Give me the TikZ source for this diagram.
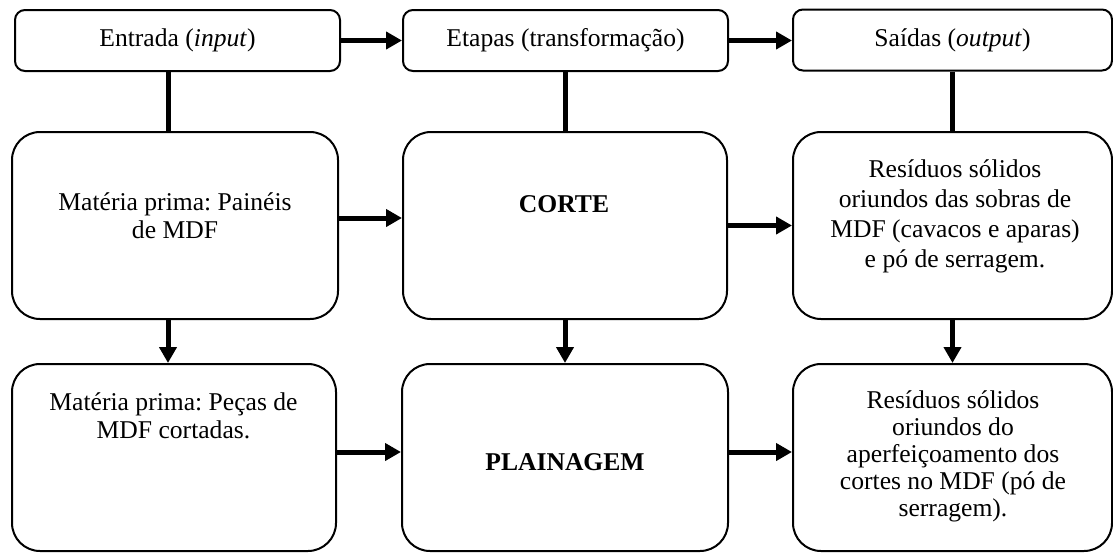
\documentclass[tikz,border=0pt]{standalone}
\usepackage{fontspec}
\setmainfont{Liberation Serif}
\usetikzlibrary{arrows.meta}
\frenchspacing

\tikzset{
  head/.style={draw, line width=1pt, rounded corners=5pt, minimum height=30.5pt, font=\fontsize{12.8}{14}\selectfont},
  stage/.style={draw, line width=1pt, rounded corners=14pt, minimum height=93.5pt},
  txt/.style={align=center, font=\fontsize{12.8}{14}\selectfont},
  link/.style={line width=2.5pt},
  flow/.style={line width=2.5pt, -{Triangle[length=8pt,width=8.5pt]}}
}

\begin{document}
\begin{tikzpicture}[x=1pt,y=1pt]
    \useasboundingbox (0,0) rectangle (556.5,-276);

    % Header row
    \node (entrada) at (88.75,-20.25) [head, minimum width=162.5pt] {Entrada (\textit{input})};
    \node (etapas) at (282.75,-20.25) [head, minimum width=162.5pt] {Etapas (transformação)};
    \node (saidas) at (476.25,-20) [head, minimum width=159.5pt] {Saídas (\textit{output})};

    % Boxes of the first stage
    \node (paineis) at (87.5,-112.75) [stage, minimum width=163pt] {};
    \node (corte) at (282.5,-112.75) [stage, minimum width=162pt] {};
    \node (sobras) at (476.25,-112.75) [stage, minimum width=159.5pt] {};

    % Boxes of the second stage
    \node (pecas) at (87,-228.75) [stage, minimum width=162pt] {};
    \node (plainagem) at (282.5,-228.75) [stage, minimum width=163pt] {};
    \node (po) at (476.25,-228.75) [stage, minimum width=159.5pt] {};

    % Texts
    \node (tpaineis) at (87.5,-108) [txt] {Matéria prima: Painéis\\de MDF};
    \node (tcorte) at (282,-102) [txt] {\textbf{CORTE}};
    \node (tsobras) at (477.5,-108) [txt, font=\fontsize{12.8}{15}\selectfont] {Resíduos sólidos\\oriundos das sobras de\\MDF (cavacos e aparas)\\e pó de serragem.};
    \node (tpecas) at (86.75,-208) [txt] {Matéria prima: Peças de\\MDF cortadas.};
    \node (tplainagem) at (282.5,-231) [txt] {\textbf{PLAINAGEM}};
    \node (tpo) at (476.5,-228) [txt, font=\fontsize{12.8}{13.5}\selectfont] {Resíduos sólidos\\oriundos do\\aperfeiçoamento dos\\cortes no MDF (pó de\\serragem).};

    % Header arrows and links
    \draw[flow] (entrada) -- (etapas);
    \draw[flow] (etapas) -- (saidas.west |- etapas);
    \draw[link] ([xshift=-4.75pt]entrada.south) -- ([xshift=-4.75pt]entrada.south |- paineis.north);
    \draw[link] (etapas.south) -- (etapas.south |- corte.north);
    \draw[link] (saidas.south) -- (sobras.north);

    % Flow between the boxes
    \draw[flow] ([yshift=3.75pt]paineis.east) -- ([yshift=3.75pt]corte.west);
    \draw[flow] (corte) -- (sobras);
    \draw[flow] ([xshift=-3.5pt]paineis.south) -- ([xshift=-3.5pt]paineis.south |- pecas.north);
    \draw[flow] (corte.south) -- (corte.south |- plainagem.north);
    \draw[flow] (sobras.south) -- (po.north);
    \draw[flow] ([yshift=2.75pt]pecas.east) -- ([yshift=2.75pt]plainagem.west);
    \draw[flow] ([yshift=2.75pt]plainagem.east) -- ([yshift=2.75pt]po.west);
\end{tikzpicture}
\end{document}
